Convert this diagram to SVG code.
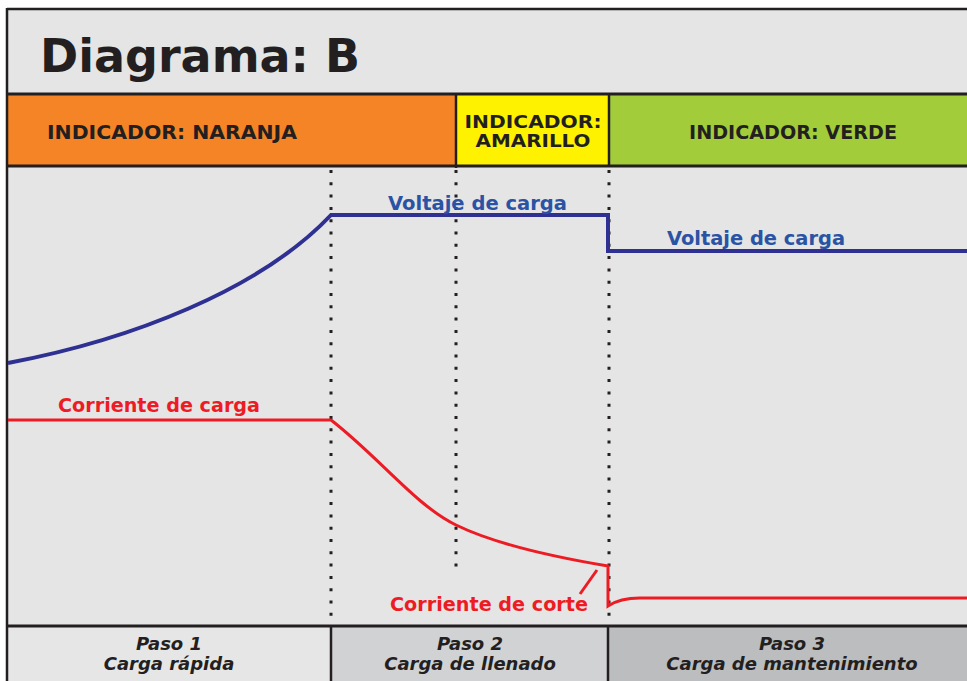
<svg xmlns="http://www.w3.org/2000/svg" width="967" height="681" viewBox="0 0 967 681">
<style>
.t{font-family:"DejaVu Sans","Verdana",sans-serif;font-weight:bold;fill:#231f20}
.ind{font-size:19px}
.step{font-size:18px;font-style:italic;text-anchor:middle}
.blue{fill:#2b53a4;font-size:19px}
.red{fill:#ed1c24;font-size:19px}
.dot{stroke:#231f20;stroke-width:3;stroke-dasharray:3 9.3;fill:none}
.bl{stroke:#231f20;fill:none}
</style>
<rect x="0" y="0" width="967" height="681" fill="#ffffff"/>
<g id="title">
<rect x="7" y="9" width="960" height="85" fill="#e5e5e5"/>
<text class="t" x="40" y="72" font-size="46">Diagrama: B</text>
</g>
<g id="ind-naranja">
<rect x="7" y="94" width="449" height="72" fill="#f58426"/>
<text class="t ind" x="47" y="139" textLength="250" lengthAdjust="spacingAndGlyphs">INDICADOR: NARANJA</text>
</g>
<g id="ind-amarillo">
<rect x="456" y="94" width="153" height="72" fill="#fff200"/>
<text class="t" font-size="18" x="533" y="128" text-anchor="middle" textLength="137" lengthAdjust="spacingAndGlyphs">INDICADOR:</text>
<text class="t" font-size="18" x="533" y="147" text-anchor="middle" textLength="115" lengthAdjust="spacingAndGlyphs">AMARILLO</text>
</g>
<g id="ind-verde">
<rect x="609" y="94" width="358" height="72" fill="#a2cc3a"/>
<text class="t ind" x="689" y="139" textLength="208" lengthAdjust="spacingAndGlyphs">INDICADOR: VERDE</text>
</g>
<g id="chart">
<rect x="7" y="166" width="960" height="460" fill="#e5e5e5"/>
</g>
<g id="paso1">
<rect x="7" y="626" width="324" height="55" fill="#e6e6e6"/>
<text class="t step" x="169" y="650">Paso 1</text>
<text class="t step" x="169" y="670">Carga rápida</text>
</g>
<g id="paso2">
<rect x="331" y="626" width="278" height="55" fill="#d1d2d4"/>
<text class="t step" x="470" y="650">Paso 2</text>
<text class="t step" x="470" y="670">Carga de llenado</text>
</g>
<g id="paso3">
<rect x="609" y="626" width="358" height="55" fill="#bbbdbf"/>
<text class="t step" x="792" y="650">Paso 3</text>
<text class="t step" x="792" y="670">Carga de mantenimiento</text>
</g>
<g id="frame">
<line class="bl" x1="7" y1="9" x2="967" y2="9" stroke-width="2.5"/>
<line class="bl" x1="7" y1="8" x2="7" y2="681" stroke-width="2.5"/>
<line class="bl" x1="7" y1="94" x2="967" y2="94" stroke-width="3"/>
<line class="bl" x1="7" y1="166" x2="967" y2="166" stroke-width="3"/>
<line class="bl" x1="7" y1="626" x2="967" y2="626" stroke-width="3"/>
<line class="bl" x1="456" y1="94" x2="456" y2="168" stroke-width="2.5"/>
<line class="bl" x1="609" y1="94" x2="609" y2="166" stroke-width="2.5"/>
<line class="bl" x1="331" y1="626" x2="331" y2="681" stroke-width="2.5"/>
<line class="bl" x1="608" y1="626" x2="608" y2="681" stroke-width="2.5"/>
</g>
<g id="connectors">
<line class="dot" x1="331" y1="170" x2="331" y2="625"/>
<line class="dot" x1="456" y1="170" x2="456" y2="568"/>
<line class="dot" x1="609" y1="170" x2="609" y2="622"/>
<path d="M8,363 C130,340 260,290 331,215 L608,215 L608,251 L967,251" fill="none" stroke="#2e3192" stroke-width="4"/>
<path d="M8,420 L331,420 C380,458 415,505 456,525 S560,558 608,566 L608,606 Q620,598 640,598 L967,598" fill="none" stroke="#ed1c24" stroke-width="3"/>
<line x1="580" y1="594" x2="597" y2="570" stroke="#ed1c24" stroke-width="3"/>
</g>
<g id="labels">
<text class="t blue" x="388" y="210" textLength="179" lengthAdjust="spacingAndGlyphs">Voltaje de carga</text>
<text class="t blue" x="667" y="245" textLength="178" lengthAdjust="spacingAndGlyphs">Voltaje de carga</text>
<text class="t red" x="58" y="412" textLength="202" lengthAdjust="spacingAndGlyphs">Corriente de carga</text>
<text class="t red" x="390" y="611" textLength="198" lengthAdjust="spacingAndGlyphs">Corriente de corte</text>
</g>
</svg>
